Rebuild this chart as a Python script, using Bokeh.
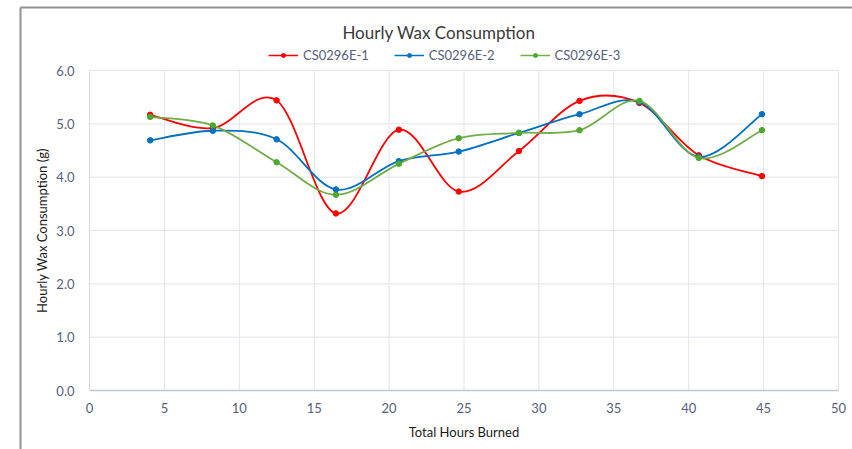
from bokeh.plotting import figure
from bokeh.models import (Range1d, FixedTicker, PrintfTickFormatter, Legend, LegendItem,
                          ColumnDataSource, LinearAxis)
from bokeh.core.properties import value
from bokeh.embed import file_html
from bokeh.resources import INLINE

# ---- data ----
hours = [4.05, 8.23, 12.49, 16.45, 20.65, 24.65, 28.67, 32.71, 36.71, 40.67, 44.89]
series_names = ["CS0296E-1", "CS0296E-2", "CS0296E-3"]
cs1 = [5.17, 4.92, 5.44, 3.32, 4.89, 3.73, 4.49, 5.43, 5.39, 4.41, 4.02]
cs2 = [4.69, 4.87, 4.71, 3.77, 4.30, 4.48, 4.83, 5.18, 5.41, 4.38, 5.18]
cs3 = [5.13, 4.97, 4.28, 3.67, 4.25, 4.73, 4.83, 4.88, 5.43, 4.36, 4.88]
x_ticks = [0, 5, 10, 15, 20, 25, 30, 35, 40, 45, 50]
y_ticks = [0, 1, 2, 3, 4, 5, 6]
chart_title = "Hourly Wax Consumption"
x_title = "Total Hours Burned"
y_title = "Hourly Wax Consumption (g)"

colors = ["#FF0000", "#0070C0", "#70AD47"]
marker_colors = ["#FF0000", "#0070C0", "#4EA72E"]
FONT = "Lato"
TICK_COLOR = "#56607A"
GRID = "#E1E4EA"

# layout (page pixels)
CANVAS_L, CANVAS_T, W, H = 0, 0, 852, 449
FRAME_L, FRAME_R, FRAME_T, FRAME_B = 89, 838, 70, 390
X0, X1, Y0, Y1 = 0, 50, 0, 6
kx = (FRAME_R - FRAME_L) / (X1 - X0)
ky = (FRAME_B - FRAME_T) / (Y1 - Y0)
xs_ = X0 - (FRAME_L - CANVAS_L) / kx
xe_ = X1 + (CANVAS_L + W - FRAME_R) / kx
ys_ = Y0 - (CANVAS_T + H - FRAME_B) / ky
ye_ = Y1 + (FRAME_T - CANVAS_T) / ky


def px_x(px):
    return X0 + (px - FRAME_L) / kx


def px_y(py):
    return Y0 + (FRAME_B - py) / ky


p = figure(width=W, height=H, output_backend="svg", toolbar_location=None,
           x_range=Range1d(xs_, xe_), y_range=Range1d(ys_, ye_),
           min_border=0, x_axis_type=None, y_axis_type=None)
p.outline_line_color = None
p.background_fill_color = "white"
p.border_fill_color = "white"
p.xgrid.visible = False
p.ygrid.visible = False

# gridlines (drawn within the plot area only)
p.segment(x0=x_ticks, y0=[Y0] * len(x_ticks), x1=x_ticks, y1=[Y1] * len(x_ticks),
          line_color=GRID, line_width=1)
p.segment(x0=[X0] * len(y_ticks), y0=y_ticks, x1=[X1] * len(y_ticks), y1=y_ticks,
          line_color=GRID, line_width=1)

# chart border (left and top)
bx, by = px_x(20), px_y(7)
p.segment(x0=[bx, bx], y0=[ys_, by], x1=[bx, xe_], y1=[by, by],
          line_color="#929292", line_width=2)

# axes
xaxis = LinearAxis(fixed_location=0, bounds=(X0, X1), ticker=FixedTicker(ticks=x_ticks),
                   axis_label=x_title)
yaxis = LinearAxis(fixed_location=0, bounds=(Y0, Y1), ticker=FixedTicker(ticks=y_ticks),
                   formatter=PrintfTickFormatter(format="%.1f"), axis_label=y_title)
for ax in (xaxis, yaxis):
    ax.major_tick_line_color = None
    ax.minor_tick_line_color = None
    ax.major_label_text_font = FONT
    ax.major_label_text_font_size = "13px"
    ax.major_label_text_color = TICK_COLOR
    ax.axis_label_text_font = FONT
    ax.axis_label_text_font_size = "13px"
    ax.axis_label_text_font_style = "normal"
    ax.axis_label_text_color = "#1a1a1a"
xaxis.axis_line_color = "#BFC5D1"
xaxis.axis_line_width = 1.5
yaxis.axis_line_color = "#D6DAE2"
xaxis.major_label_standoff = 6
xaxis.axis_label_standoff = 8
yaxis.major_label_standoff = 9
yaxis.axis_label_standoff = 3
p.add_layout(xaxis, "below")
p.add_layout(yaxis, "left")


def smooth(xs, ys):
    """Catmull-Rom style bezier control points (Excel-like smoothing)."""
    n = len(xs)
    x0, y0, x1, y1, cx0, cy0, cx1, cy1 = [], [], [], [], [], [], [], []
    for i in range(n - 1):
        ip = max(i - 1, 0)
        inn = min(i + 2, n - 1)
        x0.append(xs[i]); y0.append(ys[i])
        x1.append(xs[i + 1]); y1.append(ys[i + 1])
        cx0.append(xs[i] + (xs[i + 1] - xs[ip]) / 6.0)
        cy0.append(ys[i] + (ys[i + 1] - ys[ip]) / 6.0)
        cx1.append(xs[i + 1] - (xs[inn] - xs[i]) / 6.0)
        cy1.append(ys[i + 1] - (ys[inn] - ys[i]) / 6.0)
    return dict(x0=x0, y0=y0, x1=x1, y1=y1, cx0=cx0, cy0=cy0, cx1=cx1, cy1=cy1)


items = []
for name, ys, c, mc in zip(series_names, [cs1, cs2, cs3], colors, marker_colors):
    src = ColumnDataSource(smooth(hours, ys))
    p.bezier(x0="x0", y0="y0", x1="x1", y1="y1", cx0="cx0", cy0="cy0",
             cx1="cx1", cy1="cy1", source=src, line_color=c, line_width=1.8)
    # single-point line: draws nothing in the plot, provides the legend's line glyph
    ln = p.line(x=hours[:1], y=ys[:1], line_color=c, line_width=1.5)
    sc = p.scatter(hours, ys, size=5.5, marker="circle", fill_color=mc, line_color=mc)
    items.append(LegendItem(label=name, renderers=[ln, sc]))

legend = Legend(items=items, orientation="horizontal",
                location=(268 - CANVAS_L, CANVAS_T + H - 63),
                padding=0, margin=0, spacing=25, glyph_width=30, glyph_height=10,
                label_standoff=5, label_text_font=FONT, label_text_font_size="13px",
                label_height=16,
                label_text_color=TICK_COLOR, border_line_color=None,
                background_fill_alpha=0)
p.add_layout(legend, "center")

p.text(x=[px_x(438.5)], y=[px_y(32)], text=[chart_title], text_align="center",
       text_baseline="middle", text_font=value(FONT), text_font_size="17px",
       text_color="#3A3A3A")

open("out.html", "w").write(file_html(p, INLINE))
